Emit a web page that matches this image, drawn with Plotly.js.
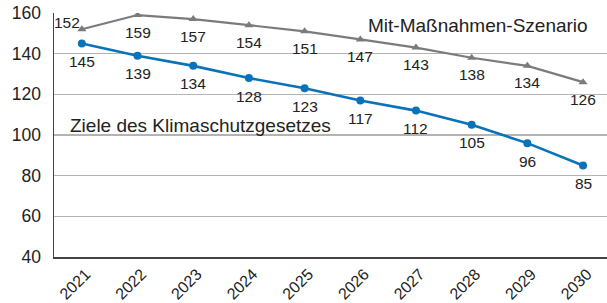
<!DOCTYPE html>
<html><head><meta charset="utf-8">
<script src="https://cdn.plot.ly/plotly-3.0.1.min.js"></script>
<style>html,body{margin:0;padding:0;background:#fff}#chart{width:607px;height:303px}</style>
</head><body><div id="chart"></div>
<script>
const years = ['2021','2022','2023','2024','2025','2026','2027','2028','2029','2030'];
const mitMassnahmen = [152,159,157,154,151,147,143,138,134,126];
const ziele = [145,139,134,128,123,117,112,105,96,85];
const nameMit = 'Mit-Maßnahmen-Szenario';
const nameZiele = 'Ziele des Klimaschutzgesetzes';
const yTicks = [40,60,80,100,120,140,160];

const grey = '#7b7b7b', blue = '#0a72b8';
const font = 'Liberation Sans, Arial, Helvetica, sans-serif';

const traces = [
  {x: years, y: mitMassnahmen, type:'scatter', mode:'lines+markers', name:nameMit,
   line:{color:grey, width:2.2}, marker:{symbol:'triangle-up', size:8, color:grey}},
  {x: years, y: ziele, type:'scatter', mode:'lines+markers', name:nameZiele,
   line:{color:blue, width:2.6}, marker:{symbol:'circle', size:8, color:blue}}
];

const lblFont = {size:15.5, color:'#222', family:font};
const ann = [];
mitMassnahmen.forEach((v,i)=>{
  if(i===0) ann.push({x:i, y:v, xref:'x', yref:'y', text:String(v), showarrow:false, xshift:-15, yshift:7, font:lblFont});
  else ann.push({x:i, y:v, xref:'x', yref:'y', text:String(v), showarrow:false, yshift:-17, font:lblFont});
});
ziele.forEach((v,i)=>{
  ann.push({x:i, y:v, xref:'x', yref:'y', text:String(v), showarrow:false, yshift:-18, font:lblFont});
});
ann.push({x:9.12, y:154, xref:'x', yref:'y', xanchor:'right', text:nameMit, showarrow:false, font:{size:19,color:'#222',family:font}});
ann.push({x:-0.24, y:104.5, xref:'x', yref:'y', xanchor:'left', text:nameZiele, showarrow:false, font:{size:19,color:'#222',family:font}});

const layout = {
  width:607, height:303,
  margin:{l:54, r:0, t:13, b:46},
  showlegend:false,
  paper_bgcolor:'#fff', plot_bgcolor:'#fff',
  font:{family:font, color:'#222'},
  xaxis:{type:'category', range:[-0.5, 9.43], tickangle:-45, tickfont:{size:16, color:'#222'},
    ticklabelshift:4, ticklabelstandoff:0,
    showgrid:false, showline:true, linecolor:'#444', linewidth:1.5, ticks:'', zeroline:false, fixedrange:true},
  yaxis:{range:[40,160], tickvals:yTicks, ticktext:yTicks.map(String), tickfont:{size:17.5,color:'#222'},
    showgrid:true, gridcolor:'#b3b3b3', gridwidth:1.5, showline:true, linecolor:'#444', linewidth:1.5,
    ticks:'', zeroline:false, ticklabelstandoff:8, fixedrange:true},
  annotations: ann
};
Plotly.newPlot('chart', traces, layout, {displayModeBar:false, staticPlot:true});
</script></body></html>
